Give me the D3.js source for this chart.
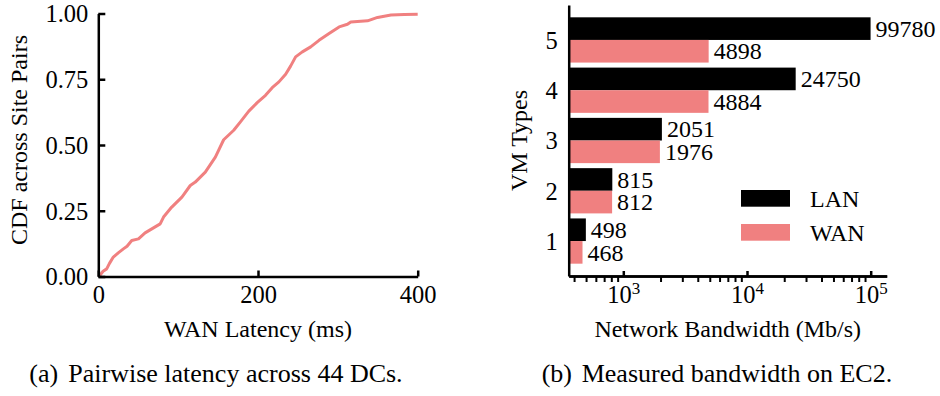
<!DOCTYPE html>
<html>
<head>
<meta charset="utf-8">
<script src="https://cdn.jsdelivr.net/npm/d3@7/dist/d3.min.js"></script>
<style>
  html, body { margin: 0; padding: 0; background: #fff; }
  svg { display: block; }
  text { font-family: "Liberation Serif", "Times New Roman", serif; fill: #000; }
</style>
</head>
<body>
<svg id="fig" width="940" height="396"></svg>
<script>
// (a) CDF of pairwise WAN latency
const latencyMs = [0, 2, 6, 10.5, 14, 18.8, 25, 31.4, 36, 41.9, 50.3, 58.6, 67, 77.5, 81.7, 92,
  104.7, 115.2, 121.5, 134, 146.6, 157, 169.6, 178, 188.5, 199, 209.4, 217.8, 226.2, 234.6,
  240.8, 247.1, 255.5, 266, 276.4, 289, 301.6, 312, 316.2, 337.2, 349.7, 366.5, 383.2, 400];
const cdfValues = [0, 0.004, 0.02, 0.029, 0.05, 0.074, 0.09, 0.105, 0.115, 0.137, 0.143, 0.166,
  0.181, 0.2, 0.226, 0.264, 0.302, 0.346, 0.359, 0.397, 0.454, 0.52, 0.556, 0.588, 0.629, 0.661,
  0.689, 0.718, 0.74, 0.769, 0.8, 0.835, 0.854, 0.873, 0.898, 0.924, 0.949, 0.959, 0.968, 0.972,
  0.985, 0.994, 0.996, 0.997];
const latencyTicks = [0, 200, 400];
const cdfTicks = [0, 0.25, 0.5, 0.75, 1];

// (b) measured bandwidth per VM type
const vmTypes = [1, 2, 3, 4, 5];
const lanBandwidth = [498, 815, 2051, 24750, 99780];
const wanBandwidth = [468, 812, 1976, 4884, 4898];
const bandwidthMajorTicks = [1e3, 1e4, 1e5];
const seriesNames = ["LAN", "WAN"];

const COLORS = { LAN: "#000000", WAN: "#F08080" };
const AXIS_W = 2.5;
const TICK_FS = 24.5, LABEL_FS = 24, CAPTION_FS = 26;

const svg = d3.select("#fig");
svg.append("rect").attr("width", 940).attr("height", 396).attr("fill", "#fff");

function styleAxis(g, fs) {
  g.selectAll("path.domain").attr("stroke", "#000").attr("stroke-width", AXIS_W);
  g.selectAll(".tick line").attr("stroke", "#000").attr("stroke-width", AXIS_W);
  g.selectAll(".tick text").attr("font-family", "Liberation Serif, serif")
    .attr("font-size", fs).attr("fill", "#000");
}

// ---------- panel (a) ----------
const xL = d3.scaleLinear().domain([0, 400]).range([98.3, 417.7]);
const yL = d3.scaleLinear().domain([0, 1]).range([276.5, 13.5]);

const gA = svg.append("g");

gA.append("path")
  .datum(latencyMs.map((d, i) => [d, cdfValues[i]]))
  .attr("fill", "none")
  .attr("stroke", COLORS.WAN)
  .attr("stroke-width", 3)
  .attr("stroke-linejoin", "round")
  .attr("d", d3.line().x(d => xL(d[0])).y(d => yL(d[1])));

gA.append("g")
  .attr("transform", `translate(0,${yL(0)})`)
  .call(d3.axisBottom(xL).tickValues(latencyTicks).tickFormat(d3.format("d"))
    .tickSizeInner(-6).tickSizeOuter(0).tickPadding(9))
  .call(g => styleAxis(g, TICK_FS));

gA.append("g")
  .attr("transform", `translate(${xL(0)},0)`)
  .call(d3.axisLeft(yL).tickValues(cdfTicks).tickFormat(d3.format(".2f"))
    .tickSizeInner(-7).tickSizeOuter(0).tickPadding(10))
  .call(g => styleAxis(g, TICK_FS))
  .call(g => g.selectAll(".tick text").attr("dy", "0.34em"));

gA.append("text")
  .attr("x", (xL.range()[0] + xL.range()[1]) / 2).attr("y", 337.3)
  .attr("text-anchor", "middle").attr("font-size", LABEL_FS)
  .text("WAN Latency (ms)");

gA.append("text")
  .attr("transform", "translate(26.7,140) rotate(-90)")
  .attr("text-anchor", "middle").attr("font-size", LABEL_FS)
  .text("CDF across Site Pairs");

// ---------- panel (b) ----------
const xR = d3.scaleLog().domain([361.9, 134700]).range([568.7, 886.7]);
const yR = d3.scaleLinear().domain([0.305, 5.695]).range([276, 5]);
const BAR_H = 0.45;

const gB = svg.append("g");
const x0 = xR.range()[0];

const barRows = vmTypes.flatMap((v, i) => [
  { type: v, series: "LAN", value: lanBandwidth[i], top: v + BAR_H, bottom: v },
  { type: v, series: "WAN", value: wanBandwidth[i], top: v, bottom: v - BAR_H }
]);

gB.selectAll("rect.bar").data(barRows).join("rect")
  .attr("class", "bar")
  .attr("x", x0)
  .attr("y", d => yR(d.top))
  .attr("width", d => xR(d.value) - x0)
  .attr("height", d => yR(d.bottom) - yR(d.top))
  .attr("fill", d => COLORS[d.series]);

gB.selectAll("text.val").data(barRows).join("text")
  .attr("class", "val")
  .attr("x", d => xR(d.value) + 5)
  .attr("y", d => yR((d.top + d.bottom) / 2))
  .attr("dy", "0.34em")
  .attr("font-size", LABEL_FS)
  .text(d => d.value);

// minor log ticks point outward, major ticks inward
const minorTicks = xR.ticks().filter(t => !bandwidthMajorTicks.includes(t));
gB.append("g")
  .attr("transform", `translate(0,${yR.range()[0]})`)
  .call(d3.axisBottom(xR).tickValues(minorTicks).tickFormat(() => "")
    .tickSizeInner(6).tickSizeOuter(0))
  .call(g => styleAxis(g, TICK_FS))
  .call(g => g.selectAll(".tick line").attr("stroke-width", 2));

gB.append("g")
  .attr("transform", `translate(0,${yR.range()[0]})`)
  .call(d3.axisBottom(xR).tickValues(bandwidthMajorTicks).tickFormat(() => "")
    .tickSizeInner(-5).tickSizeOuter(0).tickPadding(10))
  .call(g => styleAxis(g, TICK_FS))
  .call(g => g.selectAll(".tick text").each(function (d) {
    const t = d3.select(this).text(null);
    t.append("tspan").text("10");
    t.append("tspan").attr("font-size", 17).attr("dy", "-0.55em")
      .text(Math.round(Math.log10(d)));
  }));

gB.append("g")
  .attr("transform", `translate(${x0},0)`)
  .call(d3.axisLeft(yR).tickValues(vmTypes).tickFormat(d3.format("d"))
    .tickSize(0).tickPadding(11))
  .call(g => styleAxis(g, TICK_FS))
  .call(g => g.selectAll(".tick text").attr("dy", "0.34em"));

gB.append("text")
  .attr("x", (xR.range()[0] + xR.range()[1]) / 2).attr("y", 336.7)
  .attr("text-anchor", "middle").attr("font-size", LABEL_FS)
  .text("Network Bandwidth (Mb/s)");

gB.append("text")
  .attr("transform", `translate(527.3,${(yR.range()[0] + yR.range()[1]) / 2}) rotate(-90)`)
  .attr("text-anchor", "middle").attr("font-size", LABEL_FS)
  .text("VM Types");

// legend
const legend = gB.append("g").attr("transform", "translate(741,190)");
seriesNames.forEach((name, i) => {
  const row = legend.append("g").attr("transform", `translate(0,${i * 34})`);
  row.append("rect").attr("width", 49).attr("height", 16.7).attr("fill", COLORS[name]);
  row.append("text").attr("x", 69).attr("y", 8.4).attr("dy", "0.34em")
    .attr("font-size", LABEL_FS).text(name);
});

// captions
function caption(xTag, xText, tag, body) {
  svg.append("text").attr("x", xTag).attr("y", 381.7).attr("font-size", CAPTION_FS).text(tag);
  svg.append("text").attr("x", xText).attr("y", 381.7).attr("font-size", CAPTION_FS).text(body);
}
caption(29.3, 68.3, "(a)", "Pairwise latency across 44 DCs.");
caption(541.7, 581.7, "(b)", "Measured bandwidth on EC2.");
</script>
</body>
</html>
